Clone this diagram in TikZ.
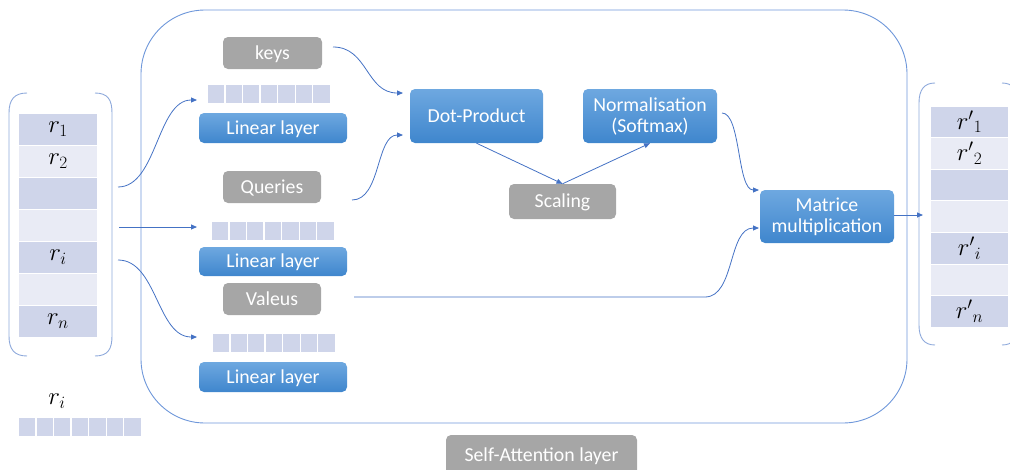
\documentclass[tikz,border=0pt]{standalone}
\usepackage{fontspec}
\setmainfont{Carlito}
\usetikzlibrary{arrows.meta}

\definecolor{connblue}{HTML}{4472C4}
\definecolor{framecol}{HTML}{6E97DA}
\definecolor{bracketcol}{HTML}{8EA9DB}
\definecolor{celldark}{HTML}{CFD5EA}
\definecolor{celllight}{HTML}{E9EBF5}
\definecolor{greyfill}{HTML}{A6A6A6}
\definecolor{bluetop}{HTML}{6EA8E0}
\definecolor{bluebot}{HTML}{3F86CD}

\tikzset{
  boxfont/.style={font=\fontsize{19.8}{21}\selectfont},
  oneline/.style={text height=12.5pt, text depth=0pt},
  bluebox/.style={boxfont, rounded corners=5pt, top color=bluetop, bottom color=bluebot,
    text=white, align=center, inner sep=0pt},
  greybox/.style={boxfont, rounded corners=5pt, fill=greyfill, text=white,
    align=center, inner sep=0pt},
  mathfont/.style={font=\fontsize{23}{24}\selectfont},
  cell/.style={mathfont, minimum width=78pt, minimum height=31pt, inner sep=0pt},
  outcell/.style={mathfont, minimum width=77pt, minimum height=30.6pt, inner sep=0pt},
  veccell/.style={fill=celldark, minimum width=16.3pt, minimum height=18pt, inner sep=0pt},
  conn/.style={draw=connblue, line width=0.8pt, -{Triangle[length=6pt,width=5pt]}},
  bracket/.style={draw=bracketcol, line width=0.9pt},
}

\begin{document}
\begin{tikzpicture}[x=1pt,y=-1pt]
\useasboundingbox (0,0) rectangle (1010,469);
\clip (0,0) rectangle (1010,469);

% self-attention frame
\draw[draw=framecol, line width=0.9pt, rounded corners=64pt] (141,10) rectangle (907,423);
\node[greybox, oneline, minimum width=191pt, minimum height=40pt] (sa) at (541.5,455) {Self-Attention layer};

% input column with its brackets
\draw[bracket] (27,93) .. controls (14,93) and (9,100) .. (9,113) -- (9,336)
  .. controls (9,349) and (14,356) .. (27,356);
\draw[bracket] (95,93) .. controls (108,93) and (112,100) .. (112,113) -- (112,336)
  .. controls (112,349) and (108,356) .. (95,356);
\foreach \i/\t/\c in {1/$r_1$/celldark, 2/$r_2$/celllight, 3//celldark, 4//celllight,
                      5/$r_i$/celldark, 6//celllight, 7/$r_n$/celldark}
  \node[cell, fill=\c] (in\i) at (58,{97+32*\i}) {\t};

% single input vector
\node[mathfont] (rilab) at (57,401) {$r_i$};
\foreach \j in {1,...,7}
  \node[veccell] (ri\j) at ({19+8.15+17.57*(\j-1)},426.5) {};

% output column with its brackets
\draw[bracket] (935,83) .. controls (924,83) and (919,90) .. (919,103) -- (919,325)
  .. controls (919,338) and (924,345) .. (935,345);
\draw[bracket] (1002,83) .. controls (1013,83) and (1018,90) .. (1018,103) -- (1018,325)
  .. controls (1018,338) and (1013,345) .. (1002,345);
\foreach \i/\t/\c in {1/${r'}_1$/celldark, 2/${r'}_2$/celllight, 3//celldark, 4//celllight,
                      5/${r'}_i$/celldark, 6//celllight, 7/${r'}_n$/celldark}
  \node[outcell, fill=\c] (out\i) at (969.5,{90.2+31.6*\i}) {\t};

% projected vectors
\foreach \j in {1,...,7} {
  \node[veccell] (vk\j) at ({208+8.15+17.57*(\j-1)},94) {};
  \node[veccell] (vq\j) at ({212+8.15+17.57*(\j-1)},231) {};
  \node[veccell] (vv\j) at ({213+8.15+17.57*(\j-1)},342.5) {};
}

% linear layers
\node[bluebox, oneline, minimum width=148pt, minimum height=30pt] (lin1) at (273,128) {Linear layer};
\node[bluebox, oneline, minimum width=148pt, minimum height=29pt] (lin2) at (273,261.5) {Linear layer};
\node[bluebox, oneline, minimum width=148pt, minimum height=30pt] (lin3) at (273,377) {Linear layer};

% keys, queries, values
\node[greybox, oneline, minimum width=99pt, minimum height=32pt] (keys) at (272.5,53) {keys};
\node[greybox, oneline, minimum width=98pt, minimum height=32pt] (queries) at (272,187) {Queries};
\node[greybox, oneline, minimum width=98pt, minimum height=32pt] (values) at (272,299) {Valeus};

% attention operations
\node[bluebox, oneline, minimum width=133pt, minimum height=54pt] (dot) at (476.5,116) {Dot-Product};
\node[bluebox, minimum width=134pt, minimum height=54pt] (norm) at (650,116) {Normalisation\\(Softmax)};
\node[greybox, oneline, minimum width=107pt, minimum height=35pt] (scale) at (562.5,201.5) {Scaling};
\node[bluebox, minimum width=134pt, minimum height=53pt] (matmul) at (827,216.5) {Matrice\\multiplication};

% connector end points
\coordinate (s1) at (118,187);   \coordinate (e1) at (197,100);
\coordinate (s2) at (119,227);   \coordinate (e2) at (197,227);
\coordinate (s3) at (118,260);   \coordinate (e3) at (197,337);
\coordinate (ks) at (333,47);    \coordinate (ke) at (403,93);
\coordinate (qs) at (352,200);   \coordinate (qe) at (403,135);
\coordinate (ns) at (722,113);   \coordinate (ne) at (759,190);
\coordinate (vs) at (354,297);   \coordinate (vm) at (705,297);
\coordinate (ve) at (759,228);
\coordinate (oe) at (923,215);

% connectors
\draw[conn] (s1) .. controls (157,187) and (157,100) .. (e1);
\draw[conn] (s2) -- (e2);
\draw[conn] (s3) .. controls (157,260) and (157,337) .. (e3);
\draw[conn] (ks) .. controls (368,47) and (366,93) .. (ke);
\draw[conn] (qs) .. controls (381,200) and (376,135) .. (qe);
\draw[conn] (dot.south) -- (scale.north);
\draw[conn] (scale.north) -- (norm.south);
\draw[conn] (ns) .. controls (741,113) and (737,190) .. (ne);
\draw[conn] (vs) -- (vm) .. controls (735,297) and (728,228) .. (ve);
\draw[conn] (matmul.east |- oe) -- (oe);
\end{tikzpicture}
\end{document}
